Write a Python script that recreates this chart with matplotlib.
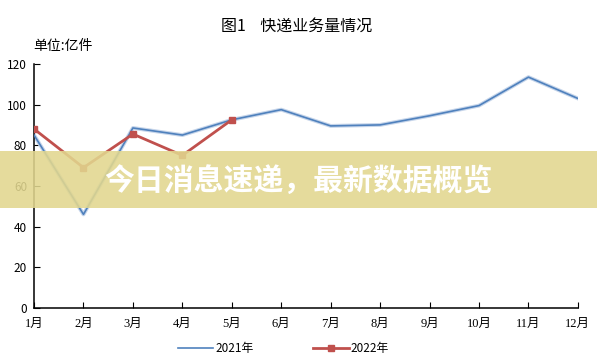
import matplotlib.pyplot as plt
from matplotlib.patches import Rectangle

plt.rcParams['font.family'] = ['Noto Sans CJK SC', 'DejaVu Sans']

months = ['1月', '2月', '3月', '4月', '5月', '6月', '7月', '8月', '9月', '10月', '11月', '12月']
y2021 = [85, 46, 88.5, 85, 92.5, 97.5, 89.5, 90, 94.5, 99.5, 113.5, 103]
y2022 = [88, 69, 85.5, 75, 92.5]

fig = plt.figure(figsize=(5.97, 3.61), dpi=100)
ax = fig.add_axes([0.057, 0.147, 0.911, 0.676])

x = list(range(1, 13))
# soft shadow under the 2021 line
ax.plot(x, y2021, color='#c6d5ea', lw=2.8, solid_joinstyle='round', zorder=2)
l1, = ax.plot(x, y2021, color='#4f81bd', lw=1.2, zorder=3, label='2021年')
l2, = ax.plot(x[:len(y2022)], y2022, color='#c0504d', lw=2, marker='s', ms=5,
              zorder=4, label='2022年')

ax.set_xlim(1, 12)
ax.set_ylim(0, 120)
ax.set_xticks(x)
ax.set_xticklabels(months, fontsize=9, family=['Liberation Serif', 'Noto Sans CJK SC'])
ax.set_yticks(range(0, 121, 20))
ax.tick_params(axis='y', labelsize=8.5, direction='in', length=4, pad=5)
ax.tick_params(axis='x', direction='in', length=4, pad=7)
for s in ['top', 'right']:
    ax.spines[s].set_visible(False)
for s in ['left', 'bottom']:
    ax.spines[s].set_linewidth(1.1)

fig.text(0.497, 0.928, '图1    快递业务量情况', ha='center', va='center', fontsize=11.5)
fig.text(0.055, 0.872, '单位:亿件', ha='left', va='center', fontsize=10)

fig.legend(handles=[l1, l2], loc='center', bbox_to_anchor=(0.475, 0.035), ncol=2,
           frameon=False, fontsize=8.5, handlelength=3, columnspacing=5,
           handletextpad=0.2)

# overlay banner
fig.patches.append(Rectangle((0, 0.424), 1, 0.158, transform=fig.transFigure,
                             facecolor='#e2d78f', alpha=0.88, edgecolor='none',
                             zorder=5))
fig.text(0.174, 0.5, '今日消息速递，最新数据概览', ha='left', va='center',
         fontsize=21.5, color='white', fontweight='bold', zorder=6)

fig.savefig('out.png', dpi=100)
